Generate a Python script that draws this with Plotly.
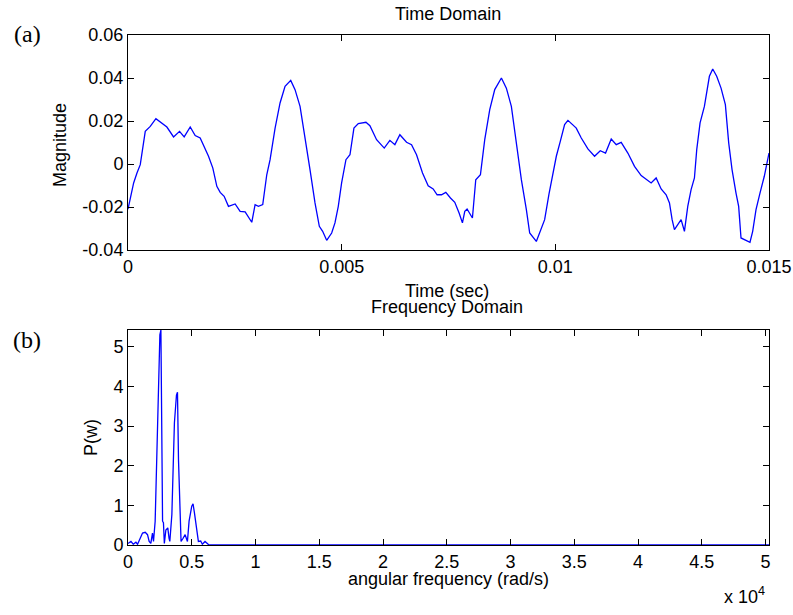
import plotly.graph_objects as go

# ---------------- data ----------------
# (a) time domain signal: time in seconds, magnitude
time_s = [0.0, 0.000132, 0.00021, 0.000287, 0.000404, 0.000521, 0.000653, 0.000755, 0.00091, 0.001066,
          0.001206, 0.001315, 0.001456, 0.001572, 0.001689, 0.001884, 0.001985, 0.002079, 0.002157, 0.00225,
          0.002351, 0.002507, 0.002624, 0.002741, 0.002896, 0.002974, 0.003052, 0.003153, 0.003247, 0.003325,
          0.003442, 0.003558, 0.003675, 0.003808, 0.003909, 0.004026, 0.004143, 0.004259, 0.004376, 0.004477,
          0.004555, 0.004649, 0.004766, 0.004843, 0.004921, 0.004999, 0.0051, 0.005194, 0.005287, 0.005389,
          0.005568, 0.005661, 0.005817, 0.005996, 0.006128, 0.006245, 0.006362, 0.006518, 0.006635, 0.006752,
          0.006892, 0.007024, 0.007141, 0.007234, 0.007336, 0.007437, 0.007546, 0.007647, 0.007748, 0.007826,
          0.007881, 0.007935, 0.00806, 0.008138, 0.008247, 0.008348, 0.008465, 0.008582, 0.008738, 0.008854,
          0.008971, 0.009088, 0.009205, 0.009322, 0.0094, 0.009555, 0.009711, 0.00975, 0.009851, 0.009945,
          0.010023, 0.010116, 0.010217, 0.010295, 0.01049, 0.010607, 0.010762, 0.010918, 0.011051, 0.011175,
          0.011308, 0.011425, 0.011541, 0.011697, 0.011853, 0.012009, 0.012141, 0.012242, 0.012359, 0.012476,
          0.012593, 0.012671, 0.012733, 0.012787, 0.012865, 0.012943, 0.013021, 0.013099, 0.013177, 0.013255,
          0.013309, 0.013387, 0.013488, 0.013605, 0.013683, 0.013776, 0.013878, 0.013979, 0.014057, 0.014135,
          0.014228, 0.01429, 0.014345, 0.014446, 0.014555, 0.014618, 0.014696, 0.014789, 0.01489, 0.015]
magnitude = [-0.021, -0.0088, -0.0042, -0.0003, 0.0152, 0.0175, 0.0211, 0.0194, 0.0172, 0.0126,
             0.0152, 0.0126, 0.0172, 0.0132, 0.0121, 0.0036, -0.0019, -0.0104, -0.0132, -0.015,
             -0.0197, -0.0186, -0.022, -0.0223, -0.0271, -0.0189, -0.0197, -0.0189, -0.005, 0.002,
             0.0167, 0.0284, 0.0361, 0.0389, 0.0346, 0.0268, 0.0129, -0.0026, -0.0181, -0.029,
             -0.0313, -0.0355, -0.0321, -0.0274, -0.0197, -0.0088, 0.002, 0.0043, 0.0167, 0.0188,
             0.0194, 0.0178, 0.0113, 0.0074, 0.011, 0.009, 0.0136, 0.0101, 0.009, 0.0043,
             -0.0042, -0.0101, -0.0116, -0.0143, -0.0143, -0.0132, -0.0158, -0.0178, -0.0228, -0.0274,
             -0.022, -0.0209, -0.0251, -0.0073, -0.005, 0.0113, 0.0253, 0.0346, 0.04, 0.0353,
             0.0268, 0.0098, -0.0073, -0.0212, -0.0321, -0.036, -0.0282, -0.0259, -0.014, -0.0042,
             0.0036, 0.0105, 0.0183, 0.0203, 0.0167, 0.0121, 0.007, 0.0036, 0.0062, 0.0051,
             0.0116, 0.009, 0.0101, 0.0051, -0.0011, -0.0054, -0.0073, -0.0088, -0.0065, -0.0116,
             -0.0143, -0.0181, -0.0259, -0.0305, -0.0282, -0.0259, -0.0313, -0.0197, -0.0119, -0.0065,
             0.0067, 0.0191, 0.0268, 0.0408, 0.0442, 0.0408, 0.0353, 0.0276, 0.0098, -0.0026,
             -0.0135, -0.0197, -0.0344, -0.0352, -0.0364, -0.0313, -0.0212, -0.0135, -0.0057, 0.0051]

# (b) frequency domain: angular frequency (rad/s), power
omega = [0, 230, 410, 620, 750, 940, 1140, 1350, 1530, 1660, 1790, 1920, 2000, 2130, 2240, 2390,
         2500, 2580, 2650, 2710, 2780, 2850, 2970, 3120, 3220, 3280, 3440, 3540, 3640, 3800, 3880,
         3960, 4060, 4160, 4320, 4480, 4660, 4790, 5000, 5100, 5210, 5360, 5520, 5700, 5830, 6040,
         6220, 6350, 10000, 20000, 30000, 40000, 50265]
power = [0.04, 0.09, 0.02, 0.07, 0.02, 0.17, 0.30, 0.32, 0.26, 0.09, 0.04, 0.30, 0.09, 0.60, 2.14, 4.23,
         5.30, 5.42, 3.0, 0.6, 0.56, 0.04, 0.38, 0.43, 0.17, 0.09, 0.77, 1.84, 3.08, 3.78, 3.85,
         2.14, 0.81, 0.09, 0.17, 0.26, 0.09, 0.60, 0.98, 1.04, 0.81, 0.38, 0.09, 0.10, 0.02, 0.09,
         0.04, 0.0, 0.0, 0.0, 0.0, 0.0, 0.0]

time_ticks = [0, 0.005, 0.01, 0.015]
time_ticktext = ["0", "0.005", "0.01", "0.015"]
mag_ticks = [-0.04, -0.02, 0, 0.02, 0.04, 0.06]
mag_ticktext = ["-0.04", "-0.02", "0", "0.02", "0.04", "0.06"]
omega_ticks = [0, 5000, 10000, 15000, 20000, 25000, 30000, 35000, 40000, 45000, 50000]
omega_ticktext = ["0", "0.5", "1", "1.5", "2", "2.5", "3", "3.5", "4", "4.5", "5"]
power_ticks = [0, 1, 2, 3, 4, 5]

# ---------------- figure ----------------
W, H = 793, 615
FONT = "Liberation Sans, Arial, sans-serif"
fig = go.Figure()
fig.add_trace(go.Scatter(x=time_s, y=magnitude, mode="lines",
                         line=dict(color="#0000FF", width=1.3), xaxis="x", yaxis="y"))
fig.add_trace(go.Scatter(x=omega, y=power, mode="lines",
                         line=dict(color="#0000FF", width=1.3), xaxis="x2", yaxis="y2"))

xdom = [128 / W, 769 / W]
axis_common = dict(showline=True, linecolor="black", linewidth=1, mirror="ticks",
                   ticks="inside", ticklen=6, tickcolor="black", showgrid=False,
                   zeroline=False, automargin=False,
                   tickfont=dict(family=FONT, size=18, color="black"))

fig.update_layout(
    width=W, height=H, margin=dict(l=0, r=0, t=0, b=0, autoexpand=False),
    paper_bgcolor="white", plot_bgcolor="white", showlegend=False,
    xaxis=dict(domain=xdom, anchor="y", range=[0, 0.015], tickvals=time_ticks,
               ticktext=time_ticktext, **axis_common),
    yaxis=dict(domain=[1 - 250 / H, 1 - 35 / H], anchor="x", range=[-0.04, 0.06],
               tickvals=mag_ticks, ticktext=mag_ticktext, **axis_common),
    xaxis2=dict(domain=xdom, anchor="y2", range=[0, 50265], tickvals=omega_ticks,
                ticktext=omega_ticktext, **axis_common),
    yaxis2=dict(domain=[1 - 545 / H, 1 - 330 / H], anchor="x2", range=[0, 5.42],
                tickvals=power_ticks, **axis_common),
)


def label(text, px, py, size=18, family=FONT, angle=0, xanchor="center"):
    fig.add_annotation(text=text, xref="paper", yref="paper", x=px / W, y=1 - py / H,
                       xanchor=xanchor, yanchor="middle", showarrow=False, textangle=angle,
                       font=dict(family=family, size=size, color="black"))


label("Time Domain", 448, 14)
label("Time (sec)", 447, 291)
label("Frequency Domain", 447, 307)
label("Magnitude", 60, 145, angle=-90)
label("P(w)", 91, 438, angle=-90)
label("angular frequency (rad/s)", 448, 579)
label("x 10<sup>4</sup>", 744, 595)
label("(a)", 27, 34, size=24, family="Liberation Serif, Times New Roman, serif")
label("(b)", 27, 340, size=24, family="Liberation Serif, Times New Roman, serif")

fig.write_html("out.html")
